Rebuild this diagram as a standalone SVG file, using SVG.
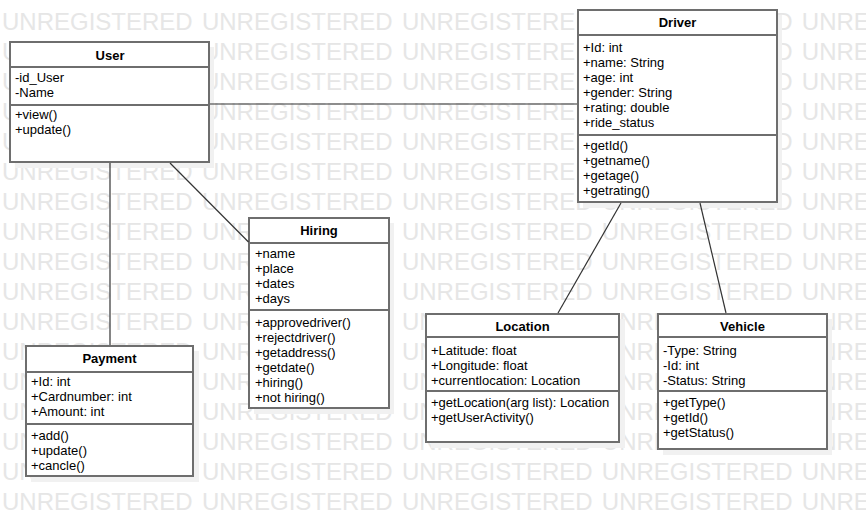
<svg xmlns="http://www.w3.org/2000/svg" width="866" height="516" viewBox="0 0 866 516">
<style>
.wm{font-family:"Liberation Sans",Arial,sans-serif;font-size:24px;fill:#e6e6e6;word-spacing:2.6px}
.box{fill:#fff;stroke:#6e6e6e;stroke-width:2}
.sh{fill:#f1f1f1}
.dv{stroke:#6e6e6e;stroke-width:2}
.t{font-family:"Liberation Sans",Arial,sans-serif;font-size:13px;fill:#000}
.h{font-weight:bold;text-anchor:middle}
.c{stroke:#333;stroke-width:1.2;fill:none}
</style>
<rect width="866" height="516" fill="#fff"/>
<g id="watermark">
<text class="wm" x="2" y="30">UNREGISTERED UNREGISTERED UNREGISTERED UNREGISTERED UNREGISTERED</text>
<text class="wm" x="2" y="60">UNREGISTERED UNREGISTERED UNREGISTERED UNREGISTERED UNREGISTERED</text>
<text class="wm" x="2" y="90">UNREGISTERED UNREGISTERED UNREGISTERED UNREGISTERED UNREGISTERED</text>
<text class="wm" x="2" y="120">UNREGISTERED UNREGISTERED UNREGISTERED UNREGISTERED UNREGISTERED</text>
<text class="wm" x="2" y="150">UNREGISTERED UNREGISTERED UNREGISTERED UNREGISTERED UNREGISTERED</text>
<text class="wm" x="2" y="180">UNREGISTERED UNREGISTERED UNREGISTERED UNREGISTERED UNREGISTERED</text>
<text class="wm" x="2" y="210">UNREGISTERED UNREGISTERED UNREGISTERED UNREGISTERED UNREGISTERED</text>
<text class="wm" x="2" y="240">UNREGISTERED UNREGISTERED UNREGISTERED UNREGISTERED UNREGISTERED</text>
<text class="wm" x="2" y="270">UNREGISTERED UNREGISTERED UNREGISTERED UNREGISTERED UNREGISTERED</text>
<text class="wm" x="2" y="300">UNREGISTERED UNREGISTERED UNREGISTERED UNREGISTERED UNREGISTERED</text>
<text class="wm" x="2" y="330">UNREGISTERED UNREGISTERED UNREGISTERED UNREGISTERED UNREGISTERED</text>
<text class="wm" x="2" y="360">UNREGISTERED UNREGISTERED UNREGISTERED UNREGISTERED UNREGISTERED</text>
<text class="wm" x="2" y="390">UNREGISTERED UNREGISTERED UNREGISTERED UNREGISTERED UNREGISTERED</text>
<text class="wm" x="2" y="420">UNREGISTERED UNREGISTERED UNREGISTERED UNREGISTERED UNREGISTERED</text>
<text class="wm" x="2" y="450">UNREGISTERED UNREGISTERED UNREGISTERED UNREGISTERED UNREGISTERED</text>
<text class="wm" x="2" y="480">UNREGISTERED UNREGISTERED UNREGISTERED UNREGISTERED UNREGISTERED</text>
<text class="wm" x="2" y="510">UNREGISTERED UNREGISTERED UNREGISTERED UNREGISTERED UNREGISTERED</text>
</g>
<g id="User">
<rect class="sh" x="15" y="47" width="199" height="121"/>
<rect class="box" x="10" y="42" width="199" height="120"/>
<line class="dv" x1="10" y1="67" x2="209" y2="67"/>
<line class="dv" x1="10" y1="105" x2="209" y2="105"/>
<text class="t h" x="110" y="59.5">User</text>
<text class="t"><tspan x="15" y="81.7">-id_User</tspan><tspan x="15" y="96.7">-Name</tspan><tspan x="15" y="119.3">+view()</tspan><tspan x="15" y="134.3">+update()</tspan></text>
</g>
<g id="Driver">
<rect class="sh" x="583" y="15" width="199" height="193"/>
<rect class="box" x="578" y="10" width="199" height="192"/>
<line class="dv" x1="578" y1="35" x2="777" y2="35"/>
<line class="dv" x1="578" y1="135" x2="777" y2="135"/>
<text class="t h" x="677.5" y="27.3">Driver</text>
<text class="t"><tspan x="583" y="51.7">+Id: int</tspan><tspan x="583" y="66.7">+name: String</tspan><tspan x="583" y="81.7">+age: int</tspan><tspan x="583" y="96.7">+gender: String</tspan><tspan x="583" y="111.7">+rating: double</tspan><tspan x="583" y="126.7">+ride_status</tspan><tspan x="583" y="150.2">+getId()</tspan><tspan x="583" y="165.2">+getname()</tspan><tspan x="583" y="180.2">+getage()</tspan><tspan x="583" y="195.2">+getrating()</tspan></text>
</g>
<g id="Hiring">
<rect class="sh" x="254" y="223" width="140" height="191"/>
<rect class="box" x="249" y="218" width="140" height="190"/>
<line class="dv" x1="249" y1="243" x2="389" y2="243"/>
<line class="dv" x1="249" y1="310" x2="389" y2="310"/>
<text class="t h" x="319" y="235.2">Hiring</text>
<text class="t"><tspan x="255" y="257.8">+name</tspan><tspan x="255" y="272.8">+place</tspan><tspan x="255" y="287.8">+dates</tspan><tspan x="255" y="302.8">+days</tspan><tspan x="255" y="327.2">+approvedriver()</tspan><tspan x="255" y="342.2">+rejectdriver()</tspan><tspan x="255" y="357.2">+getaddress()</tspan><tspan x="255" y="372.2">+getdate()</tspan><tspan x="255" y="387.2">+hiring()</tspan><tspan x="255" y="402.2">+not hiring()</tspan></text>
</g>
<g id="Payment">
<rect class="sh" x="31" y="351" width="168" height="131"/>
<rect class="box" x="26" y="346" width="167" height="130"/>
<line class="dv" x1="26" y1="372" x2="193" y2="372"/>
<line class="dv" x1="26" y1="424" x2="193" y2="424"/>
<text class="t h" x="109.5" y="362.8">Payment</text>
<text class="t"><tspan x="31" y="386.2">+Id: int</tspan><tspan x="31" y="401.2">+Cardnumber: int</tspan><tspan x="31" y="416.2">+Amount: int</tspan><tspan x="31" y="440.2">+add()</tspan><tspan x="31" y="455.2">+update()</tspan><tspan x="31" y="470.2">+cancle()</tspan></text>
</g>
<g id="Location">
<rect class="sh" x="431" y="319" width="194" height="129"/>
<rect class="box" x="426" y="314" width="193" height="128"/>
<line class="dv" x1="426" y1="337" x2="619" y2="337"/>
<line class="dv" x1="426" y1="391" x2="619" y2="391"/>
<text class="t h" x="522.5" y="331.2">Location</text>
<text class="t"><tspan x="431" y="354.5">+Latitude: float</tspan><tspan x="431" y="369.5">+Longitude: float</tspan><tspan x="431" y="384.5">+currentlocation: Location</tspan><tspan x="431" y="407.2">+getLocation(arg list): Location</tspan><tspan x="431" y="422.2">+getUserActivity()</tspan></text>
</g>
<g id="Vehicle">
<rect class="sh" x="663" y="319" width="169" height="136"/>
<rect class="box" x="658" y="314" width="169" height="135"/>
<line class="dv" x1="658" y1="337" x2="827" y2="337"/>
<line class="dv" x1="658" y1="391" x2="827" y2="391"/>
<text class="t h" x="742.5" y="331.2">Vehicle</text>
<text class="t"><tspan x="663" y="354.5">-Type: String</tspan><tspan x="663" y="369.5">-Id: int</tspan><tspan x="663" y="384.5">-Status: String</tspan><tspan x="663" y="407.2">+getType()</tspan><tspan x="663" y="422.2">+getId()</tspan><tspan x="663" y="437.2">+getStatus()</tspan></text>
</g>
<g id="connectors">
<line class="c" x1="210" y1="104" x2="577" y2="104"/>
<line class="c" x1="110" y1="163" x2="110" y2="345"/>
<line class="c" x1="170" y1="163" x2="248.5" y2="242"/>
<line class="c" x1="621" y1="203" x2="558" y2="313"/>
<line class="c" x1="700" y1="203" x2="726" y2="313"/>
</g>
</svg>
